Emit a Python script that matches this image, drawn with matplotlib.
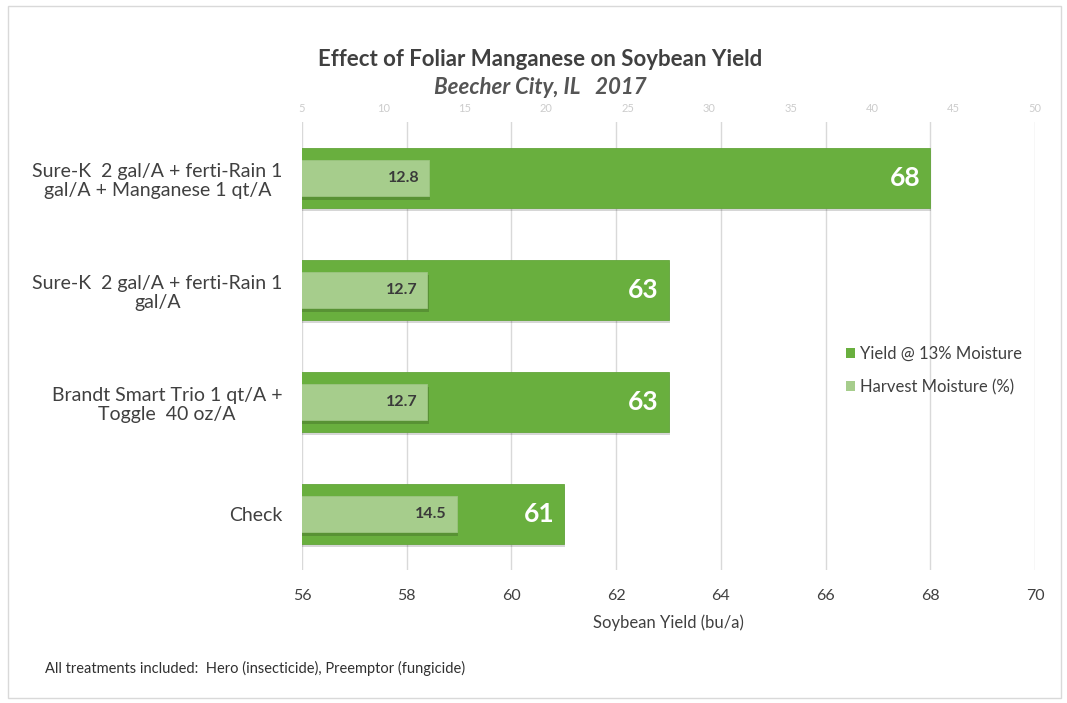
import matplotlib
matplotlib.use("Agg")
import matplotlib.pyplot as plt
import matplotlib.patheffects as pe
from matplotlib.patches import Rectangle, Patch
import numpy as np

plt.rcParams['font.family'] = ['Lato', 'DejaVu Sans']

categories = [
    "Sure-K  2 gal/A + ferti-Rain 1\ngal/A + Manganese 1 qt/A",
    "Sure-K  2 gal/A + ferti-Rain 1\ngal/A",
    "Brandt Smart Trio 1 qt/A +\nToggle  40 oz/A",
    "Check",
]
yield_vals = [68, 63, 63, 61]
moisture_vals = [12.8, 12.7, 12.7, 14.5]
yield_ticks = [56, 58, 60, 62, 64, 66, 68, 70]
moisture_ticks = [5, 10, 15, 20, 25, 30, 35, 40, 45, 50]
series_names = ['Yield @ 13% Moisture', 'Harvest Moisture (%)']

title = "Effect of Foliar Manganese on Soybean Yield"
subtitle = "Beecher City, IL   2017"
xlabel = "Soybean Yield (bu/a)"
footnote = "All treatments included:  Hero (insecticide), Preemptor (fungicide)"

W, H = 1067, 703
fig = plt.figure(figsize=(W / 100, H / 100), dpi=100)
fig.patch.set_facecolor('white')

left, right, top, bottom = 302, 1035, 122, 570
ax = fig.add_axes([left / W, 1 - bottom / H, (right - left) / W, (bottom - top) / H])

ypos = np.arange(len(categories))[::-1]
green = '#69af3e'
light = '#a6cd8c'
txt = '#404040'

shadow = [pe.SimplePatchShadow(offset=(0.8, -2.2), shadow_rgbFace='#000000', alpha=0.16), pe.Normal()]

bars = ax.barh(ypos, yield_vals, height=0.535, color=green, edgecolor='#63a63b', linewidth=0.6,
               zorder=2)
for b in bars:
    b.set_path_effects(shadow)
ax.set_xlim(yield_ticks[0], yield_ticks[-1])
ax.set_ylim(-0.5, len(categories) - 0.5)
ax.set_xticks(yield_ticks)
ax.set_xticklabels([str(t) for t in yield_ticks], fontsize=11.5, color=txt)
ax.set_yticks(ypos)
ax.set_yticklabels(categories, fontsize=14, color=txt, multialignment='center', linespacing=1.15)
ax.tick_params(axis='y', length=0, pad=14)
ax.tick_params(axis='x', length=0, pad=14)
ax.grid(axis='x', color='#d9d9d9', linewidth=1, zorder=0)
ax.set_axisbelow(True)
for s in ax.spines.values():
    s.set_visible(False)
ax.set_xlabel(xlabel, fontsize=12, color=txt, labelpad=8)

for v, y in zip(yield_vals, ypos):
    ax.annotate(str(v), xy=(v, y), xytext=(-7, 0), textcoords='offset points',
                ha='right', va='center', fontsize=19, fontweight='bold', color='white', zorder=5)

ax2 = ax.twiny()
mb = ax2.barh(ypos, moisture_vals, height=0.33, color=light, edgecolor='#9cc581', linewidth=0.6,
              zorder=3)
for b in mb:
    b.set_path_effects(shadow)
ax2.set_xlim(moisture_ticks[0], moisture_ticks[-1])
ax2.set_xticks(moisture_ticks)
ax2.set_xticklabels([str(t) for t in moisture_ticks], fontsize=8, color='#cccccc')
ax2.tick_params(axis='x', length=0, pad=6)
for s in ax2.spines.values():
    s.set_visible(False)
for v, y in zip(moisture_vals, ypos):
    ax2.annotate(f"{v:.1f}", xy=(v, y), xytext=(-7, 0), textcoords='offset points',
                 ha='right', va='center', fontsize=11.5, fontweight='bold', color='#3a3a3a', zorder=6)

handles = [Patch(facecolor=green), Patch(facecolor=light)]
leg = ax2.legend(handles, series_names, loc='center left',
                 bbox_to_anchor=(0.722, 0.445), frameon=False, fontsize=12,
                 handlelength=0.55, handleheight=0.55, handletextpad=0.3, labelspacing=1.0,
                 labelcolor=txt)

cx = 540 / W
fig.text(cx, 1 - 60 / H, title, ha='center', va='center',
         fontsize=16, fontweight='bold', color=txt)
fig.text(cx, 1 - 88 / H, subtitle, ha='center', va='center',
         fontsize=16, fontweight='bold', fontstyle='italic', color='#555555')
fig.text(45 / W, 1 - 668 / H, footnote, ha='left', va='center', fontsize=10.5, color='#303030')

fig.add_artist(Rectangle((8 / W, 5 / H), (1061 - 8) / W, (697 - 5) / H, transform=fig.transFigure,
                         fill=False, edgecolor='#d9d9d9', linewidth=1))

fig.savefig('out.png', dpi=100)
